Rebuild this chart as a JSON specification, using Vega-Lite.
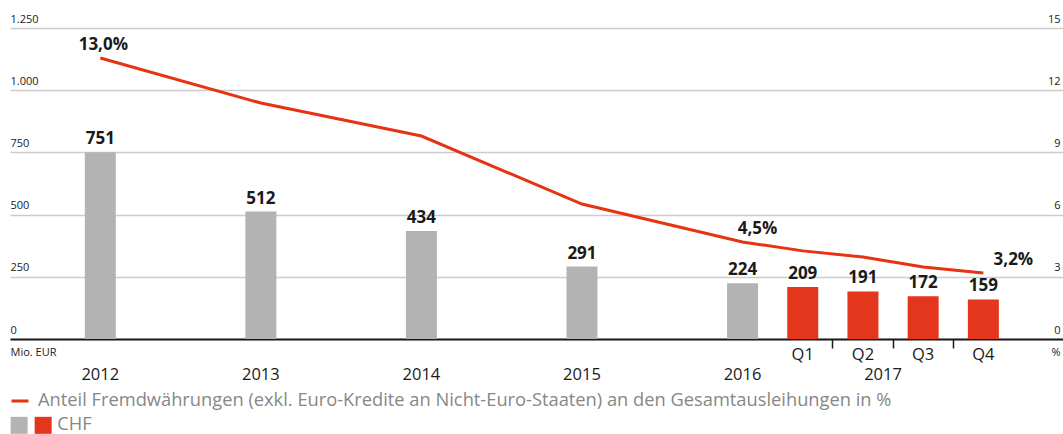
{
  "$schema": "https://vega.github.io/schema/vega-lite/v6.json",
  "width": 1053,
  "height": 311,
  "autosize": {"type": "none"},
  "padding": {"left": 10, "top": 28, "right": 0, "bottom": 95},
  "config": {
    "view": {"stroke": null},
    "font": "Open Sans",
    "axis": {"labelFont": "Open Sans", "titleFont": "Open Sans"},
    "legend": {"labelFont": "Open Sans"}
  },
  "data": {
    "values": [
      {"kategorie": "2012", "gruppe": "Jahr", "chf": 751, "anteil": 13.55, "plabel": "13,0%"},
      {"kategorie": "2013", "gruppe": "Jahr", "chf": 512, "anteil": 11.38},
      {"kategorie": "2014", "gruppe": "Jahr", "chf": 434, "anteil": 9.79},
      {"kategorie": "2015", "gruppe": "Jahr", "chf": 291, "anteil": 6.51},
      {"kategorie": "2016", "gruppe": "Jahr", "chf": 224, "anteil": 4.68, "plabel": "4,5%"},
      {"kategorie": "Q1", "gruppe": "Quartal", "chf": 209, "anteil": 4.25},
      {"kategorie": "Q2", "gruppe": "Quartal", "chf": 191, "anteil": 3.96},
      {"kategorie": "Q3", "gruppe": "Quartal", "chf": 172, "anteil": 3.47},
      {"kategorie": "Q4", "gruppe": "Quartal", "chf": 159, "anteil": 3.18, "plabel": "3,2%"}
    ]
  },
  "encoding": {
    "x": {
      "field": "kategorie", "type": "nominal",
      "scale": {"type": "band", "paddingInner": 0, "paddingOuter": 0.234, "align": 0,
        "domain": ["l1","l2","l3","l4","2012","a1","a2","a3","a4","a5","a6","a7","2013","b1","b2","b3","b4","b5","b6","b7","2014","c1","c2","c3","c4","c5","c6","c7","2015","d1","d2","d3","d4","d5","d6","d7","2016","e1","e2","Q1","f1","f2","Q2","2017","g1","Q3","h1","h2","Q4","r1","r2","r3"]},
      "axis": null
    }
  },
  "layer": [
    {
      "mark": {"type": "bar", "width": 31},
      "encoding": {
        "x": {
          "field": "kategorie", "type": "nominal",
          "scale": {"type": "band", "paddingInner": 0, "paddingOuter": 0.234, "align": 0,
            "domain": ["l1","l2","l3","l4","2012","a1","a2","a3","a4","a5","a6","a7","2013","b1","b2","b3","b4","b5","b6","b7","2014","c1","c2","c3","c4","c5","c6","c7","2015","d1","d2","d3","d4","d5","d6","d7","2016","e1","e2","Q1","f1","f2","Q2","2017","g1","Q3","h1","h2","Q4","r1","r2","r3"]},
          "axis": {"orient": "bottom", "title": null, "values": ["2012","2013","2014","2015","2016","2017"],
            "labelFontSize": 16.5, "labelColor": "#1a1a1a", "labelPadding": 27, "labelAngle": 0,
            "ticks": false, "domain": true, "domainColor": "#1a1a1a", "domainWidth": 2, "grid": false}
        },
        "y": {
          "field": "chf", "type": "quantitative",
          "scale": {"domain": [0, 1250], "nice": false, "zero": true},
          "axis": {"orient": "left", "values": [0, 250, 500, 750, 1000, 1250],
            "labelExpr": "replace(format(datum.value, ','), ',', '.')",
            "title": "Mio. EUR", "titleAngle": 0, "titleX": 0, "titleY": 324, "titleAlign": "left", "titleBaseline": "middle",
            "titleFontSize": 11, "titleFontWeight": "normal", "titleColor": "#1a1a1a",
            "labelAlign": "left", "labelBaseline": "bottom", "labelPadding": 0, "labelOffset": -4,
            "labelFontSize": 11, "labelColor": "#1a1a1a",
            "ticks": false, "tickSize": 0, "domain": false,
            "grid": true, "gridColor": "#cccccc", "gridWidth": 1.5}
        },
        "fill": {
          "field": "gruppe", "type": "nominal",
          "scale": {"domain": ["Jahr", "Quartal"], "range": ["#b3b3b3", "#e3361c"]},
          "legend": {"orient": "none", "legendX": 0, "legendY": 388, "direction": "horizontal", "columns": 2,
            "title": null, "symbolType": "square", "symbolSize": 289, "symbolStrokeWidth": 0, "symbolOpacity": 1,
            "labelExpr": "datum.value == 'Quartal' ? 'CHF' : ''", "labelFontSize": 18.3, "labelColor": "#878787",
            "labelOffset": 5, "columnPadding": 0}
        }
      }
    },
    {
      "mark": {"type": "text", "baseline": "bottom", "dy": -4, "fontSize": 17, "fontWeight": "bold", "color": "#1a1a1a"},
      "encoding": {
        "x": {
          "field": "kategorie", "type": "nominal",
          "scale": {"type": "band", "paddingInner": 0, "paddingOuter": 0.234, "align": 0,
            "domain": ["l1","l2","l3","l4","2012","a1","a2","a3","a4","a5","a6","a7","2013","b1","b2","b3","b4","b5","b6","b7","2014","c1","c2","c3","c4","c5","c6","c7","2015","d1","d2","d3","d4","d5","d6","d7","2016","e1","e2","Q1","f1","f2","Q2","2017","g1","Q3","h1","h2","Q4","r1","r2","r3"]},
          "axis": {"orient": "bottom", "title": null, "values": ["f2", "g1", "h2"], "bandPosition": 0,
            "labels": false, "ticks": true, "tickSize": 9, "tickColor": "#1a1a1a", "tickWidth": 1.5,
            "domain": false, "grid": false}
        },
        "y": {"field": "chf", "type": "quantitative", "scale": {"domain": [0, 1250], "nice": false}, "axis": null},
        "text": {"field": "chf", "type": "quantitative"}
      }
    },
    {
      "mark": {"type": "line", "strokeWidth": 3},
      "encoding": {
        "x": {
          "field": "kategorie", "type": "nominal",
          "scale": {"type": "band", "paddingInner": 0, "paddingOuter": 0.234, "align": 0,
            "domain": ["l1","l2","l3","l4","2012","a1","a2","a3","a4","a5","a6","a7","2013","b1","b2","b3","b4","b5","b6","b7","2014","c1","c2","c3","c4","c5","c6","c7","2015","d1","d2","d3","d4","d5","d6","d7","2016","e1","e2","Q1","f1","f2","Q2","2017","g1","Q3","h1","h2","Q4","r1","r2","r3"]},
          "axis": {"orient": "bottom", "title": null, "values": ["Q1", "Q2", "Q3", "Q4"],
            "labelFontSize": 16.5, "labelColor": "#1a1a1a", "labelPadding": 7, "labelAngle": 0,
            "ticks": false, "domain": false, "grid": false}
        },
        "y": {
          "field": "anteil", "type": "quantitative",
          "scale": {"domain": [0, 15], "nice": false},
          "axis": {"orient": "right", "values": [0, 3, 6, 9, 12, 15],
            "title": "%", "titleAngle": 0, "titleX": -3, "titleY": 324, "titleAlign": "right", "titleBaseline": "middle",
            "titleFontSize": 11, "titleFontWeight": "normal", "titleColor": "#1a1a1a",
            "labelAlign": "right", "labelBaseline": "bottom", "labelPadding": -3, "labelOffset": -4,
            "labelFontSize": 11, "labelColor": "#1a1a1a",
            "ticks": false, "tickSize": 0, "domain": false, "grid": false}
        },
        "stroke": {
          "datum": "Anteil Fremdwährungen (exkl. Euro-Kredite an Nicht-Euro-Staaten) an den Gesamtausleihungen in %",
          "type": "nominal",
          "scale": {"range": ["#e63312"]},
          "legend": {"orient": "none", "legendX": 0, "legendY": 363, "title": null,
            "symbolType": "stroke", "symbolSize": 289, "symbolStrokeWidth": 3,
            "labelFontSize": 18.3, "labelColor": "#878787", "labelOffset": 8, "labelLimit": 2000}
        }
      }
    },
    {
      "transform": [{"filter": "datum.plabel == '13,0%'"}],
      "mark": {"type": "text", "baseline": "bottom", "dy": -4, "dx": 3, "fontSize": 17, "fontWeight": "bold", "color": "#1a1a1a"},
      "encoding": {
        "y": {"field": "anteil", "type": "quantitative", "scale": {"domain": [0, 15], "nice": false}, "axis": null},
        "text": {"field": "plabel", "type": "nominal"}
      }
    },
    {
      "transform": [{"filter": "datum.plabel == '4,5%'"}],
      "mark": {"type": "text", "baseline": "bottom", "dy": -4, "dx": 15, "fontSize": 17, "fontWeight": "bold", "color": "#1a1a1a"},
      "encoding": {
        "y": {"field": "anteil", "type": "quantitative", "scale": {"domain": [0, 15], "nice": false}, "axis": null},
        "text": {"field": "plabel", "type": "nominal"}
      }
    },
    {
      "transform": [{"filter": "datum.plabel == '3,2%'"}],
      "mark": {"type": "text", "baseline": "bottom", "dy": -4, "dx": 30, "fontSize": 17, "fontWeight": "bold", "color": "#1a1a1a"},
      "encoding": {
        "y": {"field": "anteil", "type": "quantitative", "scale": {"domain": [0, 15], "nice": false}, "axis": null},
        "text": {"field": "plabel", "type": "nominal"}
      }
    }
  ],
  "resolve": {
    "scale": {"x": "independent", "y": "independent"},
    "axis": {"x": "independent", "y": "independent"}
  }
}
